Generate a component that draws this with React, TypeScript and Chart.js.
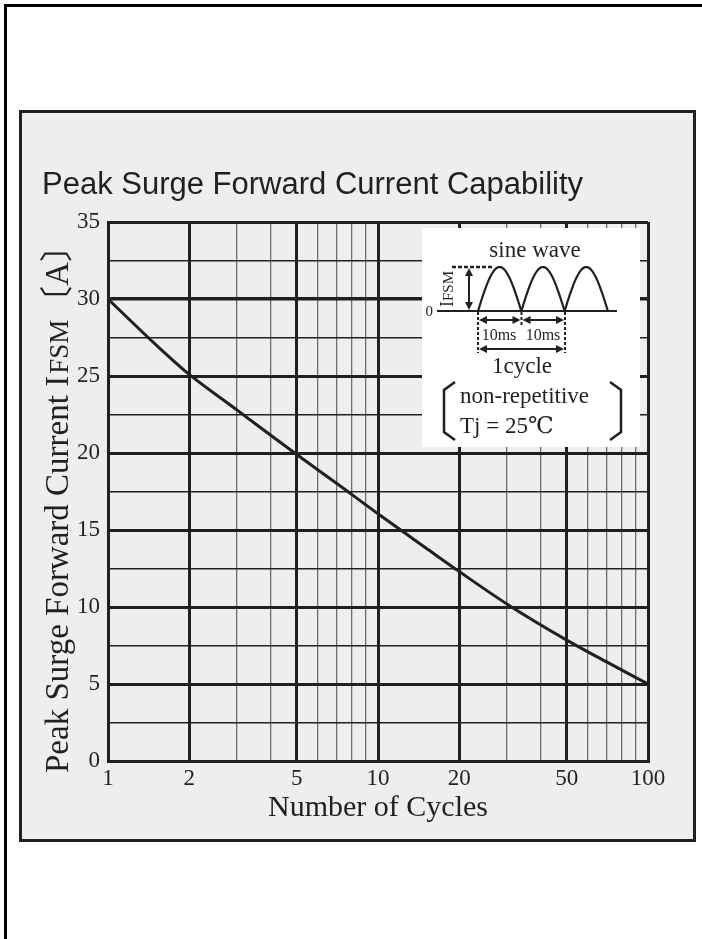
import React, { useEffect, useRef } from 'react';
import { Chart, registerables } from 'chart.js';

Chart.register(...registerables);

// ---- data ----
const cycles = [1, 1.5, 2, 3, 5, 7, 10, 15, 20, 30, 50, 70, 100];
const surgeCurrent = [30, 27.05, 25.1, 22.8, 19.9, 18.05, 16.05, 13.85, 12.3, 10.2, 7.85, 6.45, 5.0];
const xGridValues = [1, 2, 3, 4, 5, 6, 7, 8, 9, 10, 20, 30, 40, 50, 60, 70, 80, 90, 100];
const xLabelValues = [1, 2, 5, 10, 20, 50, 100];
const xMajorValues = [1, 2, 5, 10, 20, 50, 100];
const yMin = 0;
const yMax = 35;
const yStep = 2.5;
const yLabelStep = 5;

const titleText = 'Peak Surge Forward Current Capability';
const xTitleText = 'Number of Cycles';
const yTitleParts = [
  { text: 'Peak Surge Forward Current I', small: false },
  { text: 'FSM', small: true },
  { text: '〔A〕', small: false },
];

const INK = '#231f20';
const SERIF = "'Liberation Serif', 'DejaVu Serif', 'Noto Sans CJK JP', serif";
const SANS = "'Liberation Sans', Arial, sans-serif";

function arrowHead(ctx: CanvasRenderingContext2D, x: number, y: number, dx: number, dy: number) {
  const len = 8;
  const hw = 4;
  const px = -dy;
  const py = dx;
  ctx.beginPath();
  ctx.moveTo(x, y);
  ctx.lineTo(x - dx * len + px * hw, y - dy * len + py * hw);
  ctx.lineTo(x - dx * len - px * hw, y - dy * len - py * hw);
  ctx.closePath();
  ctx.fill();
}

function doubleArrowH(ctx: CanvasRenderingContext2D, x1: number, x2: number, y: number) {
  ctx.setLineDash([]);
  ctx.lineWidth = 2;
  ctx.beginPath();
  ctx.moveTo(x1 + 4, y);
  ctx.lineTo(x2 - 4, y);
  ctx.stroke();
  arrowHead(ctx, x1, y, -1, 0);
  arrowHead(ctx, x2, y, 1, 0);
}

function doubleArrowV(ctx: CanvasRenderingContext2D, x: number, y1: number, y2: number) {
  ctx.setLineDash([]);
  ctx.lineWidth = 2;
  ctx.beginPath();
  ctx.moveTo(x, y1 + 4);
  ctx.lineTo(x, y2 - 4);
  ctx.stroke();
  arrowHead(ctx, x, y1, 0, -1);
  arrowHead(ctx, x, y2, 0, 1);
}

function dashedLine(ctx: CanvasRenderingContext2D, x1: number, y1: number, x2: number, y2: number, w = 2) {
  ctx.setLineDash([3, 2]);
  ctx.lineWidth = w;
  ctx.beginPath();
  ctx.moveTo(x1, y1);
  ctx.lineTo(x2, y2);
  ctx.stroke();
  ctx.setLineDash([]);
}

const decorPlugin = {
  id: 'decor',
  afterDraw(chart: any) {
    const { ctx, chartArea } = chart;
    ctx.save();
    ctx.fillStyle = INK;
    ctx.strokeStyle = INK;

    // Title
    ctx.font = `31px ${SANS}`;
    ctx.textAlign = 'left';
    ctx.textBaseline = 'alphabetic';
    ctx.fillText(titleText, 20, 81);

    // X title
    ctx.font = `30px ${SERIF}`;
    ctx.textAlign = 'center';
    ctx.fillText(xTitleText, (chartArea.left + chartArea.right) / 2, 703);

    // Y title (rotated, mixed sizes)
    ctx.save();
    ctx.translate(35, 388);
    ctx.rotate(-Math.PI / 2);
    ctx.textAlign = 'left';
    const big = `33px ${SERIF}`;
    const small = `27px ${SERIF}`;
    let total = 0;
    const widths = yTitleParts.map((p) => {
      ctx.font = p.small ? small : big;
      const w = ctx.measureText(p.text).width + (p.small ? 3 : 0);
      total += w;
      return w;
    });
    let cx = -total / 2;
    yTitleParts.forEach((p, i) => {
      ctx.font = p.small ? small : big;
      ctx.fillText(p.text, cx + (p.small ? 2 : 0), 11);
      cx += widths[i];
    });
    ctx.restore();

    // Inset diagram
    const ox = chartArea.left + 314;
    const oy = chartArea.top + 6;
    ctx.fillStyle = '#ffffff';
    ctx.fillRect(ox, oy, 218, 219);
    ctx.translate(ox, oy);
    ctx.fillStyle = INK;
    ctx.strokeStyle = INK;

    ctx.font = `23px ${SERIF}`;
    ctx.textAlign = 'center';
    ctx.textBaseline = 'alphabetic';
    ctx.fillText('sine wave', 113, 29);

    // baseline
    ctx.lineWidth = 2;
    ctx.beginPath();
    ctx.moveTo(15, 83);
    ctx.lineTo(195, 83);
    ctx.stroke();

    // humps
    ctx.lineWidth = 2.2;
    const hw = 43.3;
    for (let i = 0; i < 3; i++) {
      const x0 = 56 + i * hw;
      ctx.beginPath();
      for (let k = 0; k <= 40; k++) {
        const t = k / 40;
        const x = x0 + t * hw;
        const y = 83 - 44 * Math.sin(Math.PI * t);
        if (k === 0) ctx.moveTo(x, y);
        else ctx.lineTo(x, y);
      }
      ctx.stroke();
    }

    // peak dashed line
    ctx.setLineDash([4, 2]);
    ctx.lineWidth = 2.5;
    ctx.beginPath();
    ctx.moveTo(30, 39);
    ctx.lineTo(70, 39);
    ctx.stroke();
    ctx.setLineDash([]);

    doubleArrowV(ctx, 47, 40, 82);

    // IFSM rotated
    ctx.save();
    ctx.translate(26, 61);
    ctx.rotate(-Math.PI / 2);
    ctx.textAlign = 'left';
    ctx.font = `18px ${SERIF}`;
    const wI = ctx.measureText('I').width;
    ctx.font = `15px ${SERIF}`;
    const wF = ctx.measureText('FSM').width;
    const st = -(wI + wF) / 2;
    ctx.font = `18px ${SERIF}`;
    ctx.fillText('I', st, 5);
    ctx.font = `15px ${SERIF}`;
    ctx.fillText('FSM', st + wI, 5);
    ctx.restore();

    ctx.font = `15px ${SERIF}`;
    ctx.textAlign = 'right';
    ctx.textBaseline = 'middle';
    ctx.fillText('0', 11, 84);
    ctx.textBaseline = 'alphabetic';

    dashedLine(ctx, 56, 84, 56, 125);
    dashedLine(ctx, 143, 84, 143, 125);
    dashedLine(ctx, 99.5, 84, 99.5, 99);

    doubleArrowH(ctx, 57, 98.5, 92);
    doubleArrowH(ctx, 100.5, 142, 92);
    doubleArrowH(ctx, 57, 142, 121);

    ctx.font = `16px ${SERIF}`;
    ctx.textAlign = 'center';
    ctx.fillText('10ms', 77, 112);
    ctx.fillText('10ms', 121, 112);

    ctx.font = `23px ${SERIF}`;
    ctx.fillText('1cycle', 100, 145);

    // brackets
    ctx.lineWidth = 2.5;
    ctx.beginPath();
    ctx.moveTo(33, 154);
    ctx.lineTo(22, 162);
    ctx.lineTo(22, 204);
    ctx.lineTo(33, 212);
    ctx.stroke();
    ctx.beginPath();
    ctx.moveTo(188, 154);
    ctx.lineTo(199, 162);
    ctx.lineTo(199, 204);
    ctx.lineTo(188, 212);
    ctx.stroke();

    ctx.font = `23px ${SERIF}`;
    ctx.textAlign = 'left';
    ctx.fillText('non-repetitive', 38, 175);
    ctx.fillText('Tj = 25℃', 38, 205);

    ctx.restore();
  },
};

export default function App() {
  const ref = useRef<HTMLCanvasElement>(null);

  useEffect(() => {
    const canvas = ref.current;
    if (!canvas) return;
    const chart = new Chart(canvas, {
      type: 'line',
      data: {
        datasets: [
          {
            data: cycles.map((c, i) => ({ x: c, y: surgeCurrent[i] })),
            borderColor: INK,
            borderWidth: 3,
            pointRadius: 0,
            fill: false,
            cubicInterpolationMode: 'monotone',
          },
        ],
      },
      options: {
        responsive: false,
        animation: false,
        layout: { padding: { top: 109, right: 45, left: 0, bottom: 0 } },
        plugins: {
          legend: { display: false },
          title: { display: false },
          tooltip: { enabled: false },
        },
        scales: {
          x: {
            type: 'logarithmic',
            min: 1,
            max: 100,
            afterBuildTicks: (s: any) => {
              s.ticks = xGridValues.map((v) => ({ value: v }));
            },
            afterFit: (s: any) => {
              s.height = 78;
            },
            ticks: {
              autoSkip: false,
              maxRotation: 0,
              minRotation: 0,
              padding: 4,
              color: INK,
              font: { family: SERIF, size: 23 },
              callback: (v: any) => (xLabelValues.includes(Number(v)) ? String(v) : ''),
            },
            grid: {
              drawTicks: false,
              color: (c: any) => (xMajorValues.includes(c.tick?.value) ? INK : '#6e6e6e'),
              lineWidth: (c: any) => (xMajorValues.includes(c.tick?.value) ? 3 : 1.3),
            },
            border: { width: 3, color: INK },
          },
          y: {
            type: 'linear',
            min: yMin,
            max: yMax,
            afterFit: (s: any) => {
              s.width = 86;
            },
            ticks: {
              stepSize: yStep,
              padding: 8,
              color: INK,
              font: { family: SERIF, size: 23 },
              callback: (v: any) => (Number(v) % yLabelStep === 0 ? String(v) : ''),
            },
            grid: {
              drawTicks: false,
              color: INK,
              lineWidth: (c: any) => {
                const v = c.tick?.value;
                if (v === 30) return 3.5;
                return v % yLabelStep === 0 ? 3 : 1.5;
              },
            },
            border: { width: 3, color: INK },
          },
        },
      },
      plugins: [decorPlugin],
    } as any);
    return () => chart.destroy();
  }, []);

  return (
    <div
      style={{
        position: 'fixed',
        left: 0,
        top: 0,
        width: 702,
        height: 939,
        background: '#ffffff',
        overflow: 'hidden',
      }}
    >
      <div
        style={{
          position: 'absolute',
          left: 4,
          top: 4,
          right: -10,
          bottom: -10,
          borderTop: '3px solid #000',
          borderLeft: '3px solid #000',
        }}
      />
      <div
        style={{
          position: 'absolute',
          left: 19,
          top: 110,
          width: 671,
          height: 726,
          border: `3px solid ${INK}`,
          background: '#eeeeee',
        }}
      >
        <canvas ref={ref} width={671} height={726} style={{ display: 'block', width: 671, height: 726 }} />
      </div>
    </div>
  );
}
